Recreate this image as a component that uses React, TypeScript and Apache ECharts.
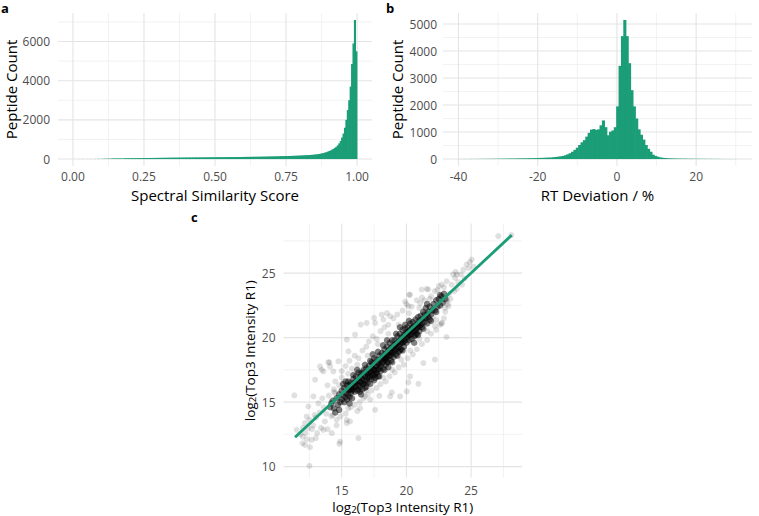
import React, { useEffect, useRef } from "react";
import * as echarts from "echarts";

// ---------- data ----------
const GREEN = "#1b9e77";

// Panel a: Spectral similarity score histogram (bin width 0.005, first bin starts at 0)
const simBinWidth = 0.005;
const simBinStart = 0;
const simCounts = [
  1, 1, 1, 2, 2, 2, 3, 3, 3, 4,
  4, 4, 5, 5, 6, 6, 7, 7, 8, 8,
  9, 10, 12, 14, 16, 18, 20, 22, 24, 26,
  27, 28, 30, 31, 32, 34, 35, 36, 38, 39,
  40, 41, 42, 43, 44, 45, 46, 47, 48, 49,
  50, 51, 52, 53, 54, 55, 56, 57, 58, 59,
  60, 61, 62, 63, 64, 65, 66, 67, 68, 69,
  70, 70, 71, 72, 73, 74, 74, 75, 76, 77,
  78, 78, 79, 80, 80, 81, 82, 82, 83, 84,
  84, 85, 86, 86, 87, 88, 88, 89, 90, 90,
  91, 92, 92, 93, 94, 95, 95, 96, 97, 98,
  98, 99, 100, 101, 102, 103, 104, 105, 106, 107,
  108, 109, 110, 111, 112, 113, 114, 115, 116, 117,
  118, 120, 121, 123, 124, 126, 127, 129, 130, 132,
  134, 135, 137, 139, 141, 143, 145, 147, 149, 151,
  153, 155, 157, 160, 162, 165, 168, 171, 174, 177,
  180, 184, 188, 192, 196, 200, 205, 210, 216, 222,
  230, 240, 250, 260, 275, 290, 310, 330, 350, 380,
  410, 440, 480, 520, 570, 630, 700, 800, 920, 1100,
  1300, 1600, 2000, 2500, 3000, 3700, 4850, 5900, 7100, 5500,
];
const simXTicks = [0, 0.25, 0.5, 0.75, 1];
const simYTicks = [0, 2000, 4000, 6000];

// Panel b: RT deviation histogram (bin width 0.6, first bin centred at -40)
const rtBinWidth = 0.6;
const rtFirstCenter = -40;
const rtCounts = [
  2, 2, 3, 3, 3, 4, 4, 5, 5, 6,
  6, 7, 8, 8, 9, 10, 11, 12, 13, 14,
  15, 16, 18, 19, 20, 22, 23, 25, 26, 28,
  30, 32, 34, 37, 40, 43, 46, 50, 54, 58,
  65, 75, 88, 100, 115, 140, 175, 215, 270, 340,
  420, 520, 620, 700, 830, 970, 1090, 1110, 1080, 1100,
  1250, 1430, 1180, 880, 1010, 1060, 1180, 1950, 3450, 4550,
  5150, 4550, 3550, 2550, 1950, 1500, 1100, 900, 720, 520,
  380, 270, 160, 115, 85, 60, 47, 38, 31, 26,
  22, 20, 18, 16, 15, 14, 13, 12, 11, 10,
  9, 9, 8, 8, 7, 7, 6, 6, 5, 5,
  4, 4, 3, 3, 3, 2, 2, 2,
];
const rtXTicks = [-40, -20, 0, 20];
const rtYTicks = [0, 1000, 2000, 3000, 4000, 5000];

// Panel c: log2 intensity scatter
const scXTicks = [15, 20, 25];
const scYTicks = [10, 15, 20, 25];
const corePoints = [
  [14.1, 14.6], [14.3, 15.1], [14.4, 14.5], [14.6, 15.3], [14.7, 14.8], [14.8, 15.6], [14.9, 15.0], [15.0, 15.9], [15.0, 15.2], [14.5, 14.2], [14.2, 14.9], [14.8, 14.4],
  [15.1, 15.5], [15.2, 16.1], [15.2, 15.0], [15.3, 15.7], [15.4, 16.3], [15.4, 15.2], [15.5, 15.9], [15.5, 16.6], [15.6, 15.4], [15.6, 16.0], [15.7, 16.5], [15.7, 15.7], [15.8, 16.2], [15.8, 15.3], [15.9, 16.8], [15.9, 16.0], [16.0, 15.8], [16.0, 16.5], [15.3, 16.6], [15.6, 14.9], [15.1, 16.4], [15.9, 17.1],
  [16.1, 16.2], [16.1, 17.0], [16.2, 15.9], [16.2, 16.6], [16.3, 17.3], [16.3, 16.3], [16.4, 16.9], [16.4, 15.8], [16.5, 16.5], [16.5, 17.2], [16.6, 16.0], [16.6, 16.8], [16.7, 17.5], [16.7, 16.4], [16.8, 17.0], [16.8, 16.1], [16.9, 17.6], [16.9, 16.7], [17.0, 17.2], [17.0, 16.5], [16.2, 17.5], [16.5, 15.6], [16.8, 17.9], [16.4, 16.2], [16.6, 17.3], [16.9, 16.2],
  [17.1, 17.8], [17.1, 16.9], [17.2, 17.4], [17.2, 18.2], [17.3, 16.8], [17.3, 17.6], [17.4, 18.0], [17.4, 17.1], [17.5, 17.5], [17.5, 18.4], [17.6, 16.9], [17.6, 17.8], [17.7, 18.3], [17.7, 17.3], [17.8, 18.0], [17.8, 17.0], [17.9, 18.6], [17.9, 17.6], [18.0, 18.2], [18.0, 17.4], [17.2, 16.4], [17.4, 18.7], [17.6, 17.2], [17.8, 18.9], [17.3, 18.1], [17.9, 17.0], [17.5, 16.7],
  [18.1, 18.8], [18.1, 18.0], [18.2, 18.5], [18.2, 17.6], [18.3, 19.1], [18.3, 18.3], [18.4, 18.7], [18.4, 17.9], [18.5, 19.3], [18.5, 18.5], [18.6, 18.1], [18.6, 19.0], [18.7, 18.6], [18.7, 19.6], [18.8, 18.2], [18.8, 19.2], [18.9, 18.8], [18.9, 19.8], [19.0, 18.5], [19.0, 19.4], [18.2, 19.4], [18.4, 18.3], [18.6, 17.7], [18.8, 18.9], [18.5, 19.8], [18.9, 18.1], [18.3, 17.5],
  [19.1, 19.0], [19.1, 19.8], [19.2, 18.7], [19.2, 19.5], [19.3, 20.1], [19.3, 19.2], [19.4, 19.7], [19.4, 18.9], [19.5, 20.3], [19.5, 19.5], [19.6, 19.1], [19.6, 20.0], [19.7, 20.6], [19.7, 19.6], [19.8, 19.3], [19.8, 20.2], [19.9, 19.8], [19.9, 20.7], [20.0, 19.6], [20.0, 20.4], [19.3, 18.6], [19.5, 20.8], [19.7, 19.0], [19.9, 21.0], [19.2, 20.3],
  [20.1, 20.1], [20.1, 20.8], [20.2, 19.8], [20.2, 20.5], [20.3, 21.1], [20.3, 20.2], [20.4, 20.7], [20.4, 19.9], [20.5, 21.2], [20.5, 20.5], [20.6, 20.1], [20.6, 20.9], [20.7, 21.4], [20.7, 20.6], [20.8, 20.3], [20.8, 21.0], [20.9, 21.6], [20.9, 20.8], [21.0, 20.5], [21.0, 21.3], [20.2, 21.3], [20.6, 19.6], [20.9, 20.2],
  [21.1, 21.0], [21.1, 21.7], [21.2, 20.8], [21.2, 21.4], [21.3, 22.0], [21.4, 21.2], [21.4, 21.8], [21.5, 22.3], [21.5, 21.5], [21.6, 21.1], [21.7, 22.0], [21.7, 21.6], [21.8, 22.4], [21.9, 21.8], [22.0, 22.1], [21.3, 20.7], [21.6, 22.6], [21.9, 21.3],
  [22.1, 22.6], [22.2, 22.1], [22.3, 22.9], [22.4, 22.4], [22.5, 23.0], [22.6, 22.5], [22.7, 23.2], [22.8, 22.7], [22.9, 23.4], [23.0, 23.0], [22.3, 22.0], [22.6, 23.3],
  [16.0, 16.2], [16.1, 16.6], [16.3, 16.0], [16.4, 16.6], [16.5, 16.9], [16.6, 16.4], [16.7, 17.1], [16.8, 16.6], [16.9, 17.3], [17.0, 16.9], [17.1, 17.3], [17.2, 17.0],
  [17.3, 17.3], [17.4, 17.6], [17.5, 17.1], [17.6, 17.5], [17.7, 17.8], [17.8, 17.5], [17.9, 18.0], [18.0, 17.8], [18.1, 18.4], [18.2, 18.1], [18.3, 18.7], [18.4, 18.4],
  [18.5, 18.1], [18.6, 18.6], [18.7, 18.9], [18.8, 18.6], [18.9, 19.2], [19.0, 18.9], [19.1, 19.4], [19.2, 19.1], [19.3, 19.6], [19.4, 19.3], [19.5, 19.0], [19.6, 19.6],
  [19.7, 19.9], [19.8, 19.7], [19.9, 20.2], [20.0, 20.0], [20.1, 20.4], [20.2, 20.2], [20.3, 20.6], [20.4, 20.3], [20.5, 20.8], [20.6, 20.5], [20.7, 20.2], [20.8, 20.7],
  [20.9, 21.1], [21.0, 20.9], [15.5, 15.6], [15.6, 16.3], [15.8, 15.9], [15.9, 16.4], [15.3, 15.4], [15.7, 16.0], [21.2, 21.1], [21.4, 21.5], [21.6, 21.8], [21.8, 21.4],
];
const haloPoints = [
  [11.34, 15.52], [11.52, 12.85], [11.98, 12.33], [12.16, 11.68], [12.29, 12.12], [12.55, 11.5], [12.5, 10.05], [12.42, 14.66], [12.5, 13.63], [12.16, 13.37],
  [12.94, 16.74], [13.32, 17.77], [13.58, 17.38], [14.05, 18.08], [14.23, 12.59], [14.82, 11.76], [16.29, 12.2], [14.61, 13.63], [15.39, 13.37], [15.64, 13.5],
  [16.42, 14.53], [16.8, 15.44], [17.58, 14.4], [17.91, 15.49], [18.74, 15.44], [18.87, 15.75], [19.51, 15.44], [20.03, 15.83], [20.15, 16.53], [20.93, 16.42],
  [20.28, 16.99], [21.31, 18.03], [22.2, 18.3], [22.73, 21.09], [23.1, 20.05], [23.12, 22.95], [23.25, 22.44], [22.29, 21.35], [21.06, 22.69], [21.57, 23.78],
  [20.21, 23.31], [20.15, 22.44], [18.74, 21.66], [18.09, 21.79], [17.5, 21.53], [16.93, 21.14], [16.47, 21.01], [17.58, 21.14], [18.22, 21.4], [16.03, 20.23],
  [15.39, 19.84], [15.52, 18.94], [14.1, 17.77], [14.74, 18.16], [13.45, 17.51], [27.1, 27.87], [28.1, 27.95], [25.05, 26.06], [24.9, 25.85], [24.65, 25.67],
  [24.4, 25.28], [23.89, 24.89], [23.76, 24.63], [23.11, 24.37], [22.73, 24.11], [21.69, 23.73], [21.18, 23.73], [20.28, 23.34], [23.11, 22.82], [22.98, 22.3],
  [22.73, 21.14], [22.08, 21.65], [12.81, 15.44], [12.68, 12.07], [11.97, 11.81], [13.96, 18.08], [14.35, 17.38], [14.87, 11.94], [15.39, 13.62], [13.58, 12.85], [12.29, 13.88],
  [12.8, 13.2], [13.0, 13.8], [13.1, 12.6], [13.3, 14.2], [13.4, 13.0], [13.6, 14.6], [13.7, 13.5], [13.8, 14.1], [13.9, 12.9], [14.0, 15.5], [14.2, 13.9], [14.3, 14.0], [14.4, 15.8],
  [13.2, 14.9], [12.9, 14.0], [13.5, 15.3], [14.6, 13.2], [12.7, 12.9], [13.0, 12.2], [12.2, 12.6], [12.0, 13.0], [11.8, 12.5], [12.4, 13.0], [13.9, 16.3], [14.5, 16.6],
  [15.0, 17.4], [15.3, 17.8], [15.6, 18.2], [15.8, 17.6], [16.0, 18.6], [16.3, 18.4], [16.6, 19.0], [16.9, 19.3], [17.1, 19.7], [17.4, 20.1], [17.7, 19.9], [18.0, 20.5],
  [18.3, 20.8], [18.6, 21.0], [19.0, 21.5], [19.3, 21.8], [19.7, 22.1], [20.0, 22.6], [20.4, 22.4], [20.8, 22.9], [21.2, 23.1], [15.3, 14.1], [15.7, 14.6], [16.0, 14.8],
  [16.4, 15.0], [16.7, 15.3], [17.0, 15.6], [17.3, 15.9], [17.7, 16.1], [18.0, 16.4], [18.4, 16.6], [18.7, 17.0], [19.1, 17.3], [19.4, 17.7], [19.8, 17.9], [20.1, 18.4],
  [20.5, 18.7], [20.8, 19.1], [21.2, 19.5], [21.6, 19.8], [21.9, 20.3], [22.3, 20.6], [22.6, 21.0], [22.9, 21.5], [23.0, 22.0], [23.2, 22.6], [22.5, 24.0], [22.9, 23.9],
  [23.5, 24.1], [23.7, 23.6], [24.0, 24.3], [24.2, 24.9], [24.5, 24.6], [24.8, 25.4], [25.2, 25.5], [23.3, 23.4], [23.6, 24.9], [21.9, 23.2], [22.2, 23.6], [21.4, 22.9],
  [15.0, 16.9], [14.8, 16.3], [14.5, 15.7], [14.9, 13.9], [15.5, 14.5], [16.2, 14.3], [16.9, 15.9], [17.2, 15.2], [18.2, 16.9], [18.9, 17.5], [19.6, 18.3], [20.3, 19.0],
  [21.0, 19.9], [21.6, 20.5], [22.2, 20.9], [17.0, 18.6], [17.8, 19.5], [18.6, 20.3], [19.4, 21.0], [20.2, 21.9], [21.0, 22.3], [21.8, 23.0], [22.4, 23.7], [23.4, 23.0],
  [16.2, 17.9], [15.5, 17.2], [14.4, 16.0], [19.9, 22.8], [18.5, 21.9], [23.8, 25.1], [24.3, 24.1], [23.9, 23.8],
];
const fitLine = [
  [11.39, 12.28],
  [28.14, 27.95],
];

// ---------- helpers ----------
const FONT = '"Open Sans", "DejaVu Sans", sans-serif';
const LABEL_COLOR = "#4d4d4d";

function minorBetween(majors: number[], lo: number, hi: number) {
  const step = majors[1] - majors[0];
  const out: number[] = [];
  for (let i = -1; i < majors.length; i++) {
    const v = majors[0] + step * (i + 0.5);
    if (v > lo && v < hi) out.push(v);
  }
  return out;
}

function gridLines(idx: number, xr: number[], yr: number[], xMaj: number[], yMaj: number[]) {
  const xMin = minorBetween(xMaj, xr[0], xr[1]);
  const yMin = minorBetween(yMaj, yr[0], yr[1]);
  const data = [
    ...xMin.map((v) => [v, yr[0], 1]),
    ...yMin.map((v) => [xr[0], v, 3]),
    ...xMaj.filter((v) => v > xr[0] && v < xr[1]).map((v) => [v, yr[0], 0]),
    ...yMaj.filter((v) => v > yr[0] && v < yr[1]).map((v) => [xr[0], v, 2]),
  ];
  return {
    type: "custom",
    xAxisIndex: idx,
    yAxisIndex: idx,
    z: 0,
    silent: true,
    data,
    renderItem: (params: any, api: any) => {
      const cs = params.coordSys;
      const kind = api.value(2);
      const p = api.coord([api.value(0), api.value(1)]);
      const major = kind === 0 || kind === 2;
      const style = { stroke: major ? "#e4e4e4" : "#efefef", lineWidth: major ? 1.1 : 0.8 };
      if (kind < 2) {
        return { type: "line", shape: { x1: p[0], y1: cs.y, x2: p[0], y2: cs.y + cs.height }, style };
      }
      return { type: "line", shape: { x1: cs.x, y1: p[1], x2: cs.x + cs.width, y2: p[1] }, style };
    },
  };
}

function histogram(idx: number, centers: number[], counts: number[], width: number) {
  return {
    type: "custom",
    xAxisIndex: idx,
    yAxisIndex: idx,
    z: 2,
    silent: true,
    data: counts.map((c, i) => [centers[i], c]),
    renderItem: (params: any, api: any) => {
      const x = api.value(0);
      const y = api.value(1);
      const a = api.coord([x - width / 2, y]);
      const b = api.coord([x + width / 2, 0]);
      return {
        type: "rect",
        shape: { x: a[0] - 0.35, y: a[1], width: b[0] - a[0] + 0.7, height: b[1] - a[1] },
        style: { fill: GREEN },
      };
    },
  };
}

function valueAxis(idx: number, range: number[], ticks: number[], fmt: (v: number) => string, extra: any) {
  return {
    type: "value",
    gridIndex: idx,
    min: range[0],
    max: range[1],
    axisLine: { show: false },
    axisTick: { show: false },
    splitLine: { show: false },
    minorSplitLine: { show: false },
    axisLabel: {
      customValues: ticks,
      formatter: (v: number) => fmt(v),
      color: LABEL_COLOR,
      fontSize: 12,
      lineHeight: 12,
      fontFamily: FONT,
      ...(extra.axisLabel || {}),
    },
    nameLocation: "middle",
    nameTextStyle: { color: "#000", fontSize: 15, lineHeight: 15, fontFamily: FONT, ...(extra.nameTextStyle || {}) },
    name: extra.name,
    nameGap: extra.nameGap,
  };
}

export default function App() {
  const ref = useRef<HTMLDivElement>(null);

  useEffect(() => {
    if (!ref.current) return;
    const chart = echarts.init(ref.current, null, { renderer: "svg" });

    const simCenters = simCounts.map((_, i) => simBinStart + (i + 0.5) * simBinWidth);
    const rtCenters = rtCounts.map((_, i) => rtFirstCenter + i * rtBinWidth);

    const aX = [-0.0525, 1.0525];
    const aY = [-355, 7455];
    const bX = [-43.9, 34.1];
    const bY = [-257.5, 5407.5];
    const cX = [10.5, 28.94];
    const cY = [9.13, 28.85];

    const logName = "{n|log}{s|2}{n|(Top3 Intensity R1)}";
    const logRich = {
      n: { fontSize: 13.5, lineHeight: 14, fontFamily: FONT, color: "#000" },
      s: { fontSize: 9.5, lineHeight: 10, fontFamily: FONT, color: "#000", padding: [5, 0, 0, 0] },
    };

    chart.setOption({
      animation: false,
      backgroundColor: "#ffffff",
      textStyle: { fontFamily: FONT },
      grid: [
        { left: 58, top: 13, width: 314, height: 153 },
        { left: 443, top: 13, width: 309, height: 153 },
        { left: 283.5, top: 223.5, width: 238.6, height: 254.3 },
      ],
      xAxis: [
        valueAxis(0, aX, simXTicks, (v) => v.toFixed(2), {
          name: "Spectral Similarity Score",
          nameGap: 21.5,
          axisLabel: { margin: 4 },
        }),
        valueAxis(1, bX, rtXTicks, (v) => String(v), {
          name: "RT Deviation / %",
          nameGap: 21.5,
          axisLabel: { margin: 4 },
        }),
        valueAxis(2, cX, scXTicks, (v) => String(v), {
          name: logName,
          nameGap: 22,
          axisLabel: { margin: 7 },
          nameTextStyle: { rich: logRich, fontSize: 13.5, lineHeight: 14 },
        }),
      ],
      yAxis: [
        valueAxis(0, aY, simYTicks, (v) => String(v), {
          name: "Peptide Count",
          nameGap: 40,
          axisLabel: { margin: 8 },
        }),
        valueAxis(1, bY, rtYTicks, (v) => String(v), {
          name: "Peptide Count",
          nameGap: 39,
          axisLabel: { margin: 6 },
        }),
        valueAxis(2, cY, scYTicks, (v) => String(v), {
          name: logName,
          nameGap: 26,
          axisLabel: { margin: 8 },
          nameTextStyle: { rich: logRich, fontSize: 13.5, lineHeight: 14 },
        }),
      ],
      graphic: [
        { type: "text", x: 1, y: 14.5, style: { text: "a", font: `bold 13px ${FONT}`, fill: "#000", textVerticalAlign: "bottom" } },
        { type: "text", x: 386, y: 14.5, style: { text: "b", font: `bold 13px ${FONT}`, fill: "#000", textVerticalAlign: "bottom" } },
        { type: "text", x: 191, y: 223, style: { text: "c", font: `bold 13px ${FONT}`, fill: "#000", textVerticalAlign: "bottom" } },
      ],
      series: [
        gridLines(0, aX, aY, [0, 0.25, 0.5, 0.75, 1], [0, 2000, 4000, 6000]),
        gridLines(1, bX, bY, [-40, -20, 0, 20], [0, 1000, 2000, 3000, 4000, 5000]),
        gridLines(2, cX, cY, [15, 20, 25], [10, 15, 20, 25]),
        histogram(0, simCenters, simCounts, simBinWidth),
        histogram(1, rtCenters, rtCounts, rtBinWidth),
        {
          type: "scatter",
          xAxisIndex: 2,
          yAxisIndex: 2,
          z: 2,
          silent: true,
          symbolSize: 6,
          itemStyle: { color: "rgba(0,0,0,0.15)" },
          data: haloPoints,
        },
        {
          type: "scatter",
          xAxisIndex: 2,
          yAxisIndex: 2,
          z: 3,
          silent: true,
          symbolSize: 6.5,
          itemStyle: { color: "rgba(0,0,0,0.62)" },
          data: corePoints,
        },
        {
          type: "line",
          xAxisIndex: 2,
          yAxisIndex: 2,
          z: 4,
          silent: true,
          symbol: "none",
          lineStyle: { color: GREEN, width: 2.8 },
          data: fitLine,
        },
      ],
    });

    return () => chart.dispose();
  }, []);

  return (
    <div
      ref={ref}
      style={{ position: "fixed", left: 0, top: 0, width: 759, height: 516, background: "#fff" }}
    />
  );
}
